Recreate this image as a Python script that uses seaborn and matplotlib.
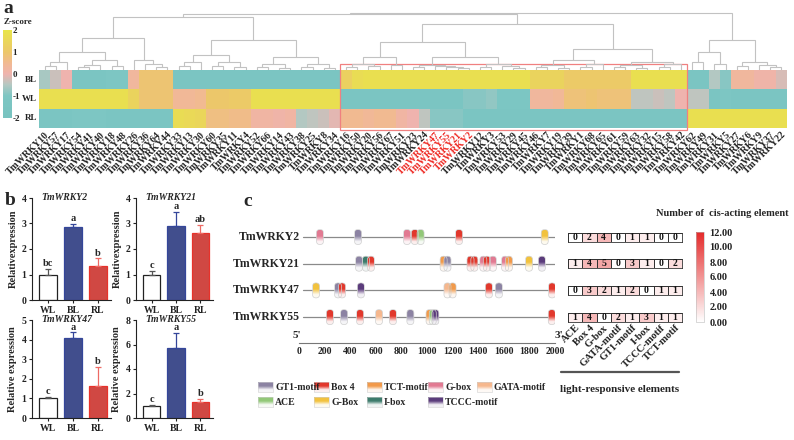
import numpy as np
import pandas as pd
import matplotlib
matplotlib.use("Agg")
import matplotlib.pyplot as plt
import seaborn as sns
from matplotlib.colors import LinearSegmentedColormap, Normalize, to_rgb
from matplotlib.patches import FancyBboxPatch, Rectangle
from matplotlib.lines import Line2D
import matplotlib.cm as cm

# ================= DATA =================
# ---- panel a: z-score heatmap ----
gene_ids = ["10", "57", "17", "54", "41", "40", "18", "48", "26", "36", "64", "44", "33", "13", "30", "60",
            "35", "11", "4", "52", "66", "14", "43", "38", "25", "8", "34", "16", "50", "20", "56", "67",
            "51", "23", "24", "47", "55", "21", "2", "12", "3", "53", "29", "45", "46", "7", "19", "39",
            "1", "68", "65", "61", "59", "63", "32", "15", "58", "42", "62", "49", "31", "5", "27", "6",
            "9", "37", "22"]
heat_rows = ["BL", "WL", "RL"]
z_BL = [-0.6, -0.3, 0.0, -1.5, -1.5, -1.5, -1.0, -1.0, 0.3, 0.9, 0.9, 0.9,
        -1.5, -1.5, -1.5, -1.5, -1.5, -1.5, -1.5, -1.5, -1.5, -1.5, -1.5, -1.5, -1.5, -1.5, -1.5,
        1.3, 1.7, 1.8, 1.8, 1.8, 1.8, 1.8, 1.8, 1.8, 1.8, 1.8, 1.8, 1.8, 1.8, 1.8, 1.8, 1.8,
        1.4, 1.4, 1.4, 1.1, 1.1, 1.1, 1.1, 1.1, 1.1, 1.8, 1.8, 1.8, 1.8, 1.8,
        -1.5, -1.5, -0.5, -0.9, 0.3, 0.3, 0.1, 0.1, -0.2]
z_WL = [1.8, 1.8, 1.8, 1.8, 1.8, 1.8, 1.8, 1.8, 1.4, 0.9, 0.9, 0.9,
        0.4, 0.4, 0.5, 1.0, 1.0, 1.1, 1.1, 1.8, 1.8, 1.8, 1.8, 1.8, 1.8, 1.8, 1.8,
        -1.5, -1.5, -1.5, -1.5, -1.5, -1.5, -1.5, -1.5, -1.3, -1.3, -1.3, -0.9, -0.9, -0.8, -1.1, -1.1, -1.1,
        0.3, 0.3, 0.4, 0.8, 0.8, 0.9, 0.8, 0.8, 0.8, -0.4, -0.4, -0.3, -0.4, 0.0,
        -0.4, -0.4, -1.5, -1.0, -1.5, -1.5, -1.5, -1.5, -1.5]
z_RL = [-1.5, -1.5, -1.5, -1.0, -1.0, -1.0, -1.5, -1.5, -1.5, -1.5, -1.5, -1.5,
        1.7, 1.6, 1.5, 0.7, 0.7, 0.6, 0.6, 0.2, 0.2, 0.1, 0.2, -0.5, -0.4, -0.3, -0.1,
        0.5, 0.5, 0.4, 0.5, 0.5, 0.2, 0.0, -0.4, -0.9, -0.9, -0.9, -1.3, -1.3, -1.3, -1.3, -1.3, -1.3,
        -1.5, -1.5, -1.5, -1.5, -1.5, -1.5, -1.5, -1.5, -1.5, -1.5, -1.5, -1.5, -1.5, -1.5,
        1.8, 1.8, 1.8, 1.8, 1.8, 1.8, 1.8, 1.8, 1.8]
highlight_ids = ["47", "55", "21", "2"]
highlight_cols = (27, 58)   # column span of the boxed cluster

# dendrogram: (height, left, right); leaves are column indices
C1 = (32, (18, (8, (4, 0, 1), 2), (10, (5, (3, 3, 4), 5), (4, 6, 7))),
      (10, 8, (6, 9, (3, 10, 11))))
C2 = (30, (15, (8, (4, 12, 13), 14), (8, (4, 15, 16), (3, 17, 18))),
      (13, (6, (3, 19, 20), (2, 21, 22)), (6, (3, 23, 24), (2, 25, 26))))
D1 = (28, (13, (6, (3, 27, 28), (4, 29, 30)), (5, 31, 32)),
      (13, (5, (3, 33, 34), (4, 35, (3, 36, (2, 37, 38)))), (6, (3, 39, 40), (4, 41, (2, 42, 43)))))
D2 = (21, (10, (5, (3, 44, 45), (2, 46, 47)), (6, (3, 48, 49), 50)),
      (8, (5, (3, 51, 52), (2, 53, 54)), (6, (3, 55, 56), 57)))
C4 = (30, (18, (8, 58, 59), (6, 60, 61)), (8, (4, 62, 63), (5, 64, (3, 65, 66))))
tree = (57, (56, (53, C1, C2), (46, D1, D2)), C4)

# ---- panel b: qRT-PCR bars ----
conditions = ["WL", "BL", "RL"]
b_genes = ["TmWRKY2", "TmWRKY21", "TmWRKY47", "TmWRKY55"]
b_means = [[1.0, 2.85, 1.33], [1.0, 2.92, 2.63], [1.0, 4.07, 1.62], [1.0, 5.75, 1.32]]
b_errs = [[0.22, 0.12, 0.30], [0.14, 0.52, 0.33], [0.07, 0.30, 1.00], [0.08, 1.20, 0.25]]
b_letters = [["bc", "a", "b"], ["c", "a", "ab"], ["c", "a", "b"], ["c", "a", "b"]]
b_ymax = [4, 4, 5, 8]
b_ystep = [1, 1, 1, 2]
b_ylabels = ["Relativexpression", "Relativexpression", "Relative expression", "Relative expression"]

# ---- panel c: promoter cis-elements ----
c_genes = ["TmWRKY2", "TmWRKY21", "TmWRKY47", "TmWRKY55"]
motif_names = ["GT1-motif", "Box 4", "TCT-motif", "G-box", "GATA-motif",
               "ACE", "G-Box", "I-box", "TCCC-motif"]
motif_colors = ["#8C83A3", "#E2382C", "#F29A4A", "#E27A92", "#F6B88E",
                "#92C878", "#F2C23E", "#3D7C6C", "#5B3C7C"]
motifs_wrky2 = [(164, "G-box"), (461, "GT1-motif"), (844, "G-box"), (905, "Box 4"), (950, "ACE"),
                (1250, "Box 4"), (1920, "G-Box")]
motifs_wrky21 = [(469, "GT1-motif"), (523, "I-box"), (562, "Box 4"), (1130, "TCT-motif"),
                 (1160, "GT1-motif"), (1340, "Box 4"), (1370, "Box 4"), (1440, "G-box"),
                 (1468, "Box 4"), (1515, "G-box"), (1610, "G-box"), (1640, "TCT-motif"),
                 (1797, "G-Box"), (1898, "TCCC-motif")]
motifs_wrky47 = [(133, "G-Box"), (305, "GT1-motif"), (336, "Box 4"), (484, "TCCC-motif"),
                 (1160, "GATA-motif"), (1200, "TCT-motif"), (1484, "Box 4"), (1562, "GT1-motif"),
                 (1977, "Box 4")]
motifs_wrky55 = [(242, "Box 4"), (352, "GT1-motif"), (477, "Box 4"), (625, "GATA-motif"),
                 (734, "Box 4"), (870, "GT1-motif"), (1020, "TCT-motif"), (1045, "ACE"),
                 (1065, "TCCC-motif"), (1975, "Box 4")]
c_motifs = [motifs_wrky2, motifs_wrky21, motifs_wrky47, motifs_wrky55]
promoter_len = 2000
count_elements = ["ACE", "Box 4", "G-box", "GATA-motif", "GT1-motif", "I-box", "TCCC-motif", "TCT-motif"]
counts_wrky2 = [0, 2, 4, 0, 1, 1, 0, 0]
counts_wrky21 = [1, 4, 5, 0, 3, 1, 0, 2]
counts_wrky47 = [0, 3, 2, 1, 2, 0, 1, 1]
counts_wrky55 = [1, 4, 0, 2, 1, 3, 1, 1]
c_counts = [counts_wrky2, counts_wrky21, counts_wrky47, counts_wrky55]

# ================= STYLE / LAYOUT =================
sns.set_theme(style="white")
plt.rcParams['font.family'] = ['Liberation Serif', 'DejaVu Serif']
plt.rcParams['font.weight'] = 'bold'
plt.rcParams['axes.labelweight'] = 'bold'
plt.rcParams['axes.linewidth'] = 0.8
plt.rcParams['axes.edgecolor'] = '#222222'
plt.rcParams['xtick.color'] = '#222222'
plt.rcParams['ytick.color'] = '#222222'

W, H = 794, 440
fig = plt.figure(figsize=(W / 100, H / 100), dpi=100)


def add_ax(l, t, r, b):
    return fig.add_axes([l / W, 1 - b / H, (r - l) / W, (b - t) / H])


def ftext(x, y, s, **kw):
    fig.text(x / W, 1 - y / H, s, **kw)


# ---------------- panel a ----------------
zdf = pd.DataFrame([z_BL, z_WL, z_RL], index=heat_rows, columns=["TmWRKY" + g for g in gene_ids])
zcmap = LinearSegmentedColormap.from_list(
    "z", [(0.0, "#78C3C0"), (0.25, "#7DC6C3"), (0.38, "#B5C8C2"), (0.5, "#EFB3AE"),
          (0.62, "#F1B993"), (0.75, "#ECC76A"), (1.0, "#E8E54A")])
ax_h = add_ax(39, 70, 787, 128)
ax_cb = add_ax(3, 30, 12, 118)
sns.heatmap(zdf, ax=ax_h, cmap=zcmap, vmin=-2, vmax=2, cbar_ax=ax_cb,
            xticklabels=True, yticklabels=True)
ax_h.set_xticks(np.arange(len(gene_ids)) + 0.5)
ax_h.set_xticklabels(zdf.columns, rotation=45, ha='right', va='top', rotation_mode='anchor',
                     fontsize=7, fontweight='bold')
for t, g in zip(ax_h.get_xticklabels(), gene_ids):
    if g in highlight_ids:
        t.set_color('#EE2A24')
ax_h.set_yticklabels(heat_rows, rotation=0, fontsize=6.5, fontweight='bold')
ax_h.tick_params(length=0, pad=1.5)
ax_h.set_xlabel("")
ax_h.set_ylabel("")
ax_h.add_patch(Rectangle((highlight_cols[0], -0.31), highlight_cols[1] - highlight_cols[0], 3.42,
                         fill=False, ec='#F08080', lw=0.9, clip_on=False))
ax_cb.set_yticks([-2, -1, 0, 1, 2])
ax_cb.set_yticklabels(["-2", "-1", "0", "1", "2"], fontsize=6.5, fontweight='bold')
ax_cb.tick_params(length=0, pad=0.5)
ftext(18, 22, "Z-score", ha='center', va='center', fontsize=6.5, fontweight='bold')

ax_d = add_ax(39, 10, 787, 70)
ax_d.set_xlim(0, len(gene_ids))
ax_d.set_ylim(0, 60)
ax_d.axis('off')


def draw_tree(ax, node):
    if isinstance(node, int):
        return node + 0.5, 0.0
    h, a, b = node
    xa, ha = draw_tree(ax, a)
    xb, hb = draw_tree(ax, b)
    ax.plot([xa, xa, xb, xb], [ha, h, h, hb], color='#C2C2C2', lw=0.8, solid_joinstyle='miter')
    return (xa + xb) / 2, h


draw_tree(ax_d, tree)
ftext(8, 13, "a", ha='center', va='baseline', fontsize=14, fontweight='bold')

# ---------------- panel b ----------------
bar_colors = ["#FFFFFF", "#34469A", "#E8322B"]
edge_colors = ["#222222", "#34469A", "#E8322B"]
err_colors = ["#555555", "#34469A", "#EE6A64"]
b_boxes = [(32, 198, 111, 300), (136, 198, 213, 300), (32, 320, 111, 418), (136, 320, 213, 418)]
for k in range(4):
    ax = add_ax(*b_boxes[k])
    sns.barplot(x=conditions, y=b_means[k], hue=conditions, palette=bar_colors, width=0.72,
                ax=ax, legend=False, linewidth=0.9, errorbar=None)
    for p, ec in zip(ax.patches, edge_colors):
        p.set_edgecolor(ec)
    for i in range(3):
        ax.errorbar(i, b_means[k][i], yerr=[[0], [b_errs[k][i]]], fmt='none',
                    ecolor=err_colors[i], elinewidth=0.9, capsize=2.5, capthick=0.9)
        ax.text(i, b_means[k][i] + b_errs[k][i] + b_ymax[k] * 0.008, b_letters[k][i],
                ha='center', va='bottom', fontsize=7.5, fontweight='bold')
    ax.set_xlim(-0.64, 2.52)
    ax.set_ylim(0, b_ymax[k])
    ax.set_yticks(np.arange(0, b_ymax[k] + 0.01, b_ystep[k]))
    ax.set_yticklabels([str(int(v)) for v in np.arange(0, b_ymax[k] + 0.01, b_ystep[k])])
    ax.tick_params(axis='both', labelsize=7, length=2.5, width=0.8, pad=1.5, direction='out',
                   left=True, bottom=True)
    for lab in ax.get_xticklabels() + ax.get_yticklabels():
        lab.set_fontweight('bold')
    ax.set_ylabel(b_ylabels[k], fontsize=7.5, fontweight='bold', labelpad=3)
    sns.despine(ax=ax)
    ax.text(0.12, 1.0, b_genes[k], transform=ax.transAxes, ha='left', va='center',
            fontsize=7, fontweight='bold', style='italic')
ftext(10, 200, "b", ha='center', va='center', fontsize=14, fontweight='bold')

# ---------------- panel c ----------------
ftext(248, 201, "c", ha='center', va='center', fontsize=14, fontweight='bold')
g_l, g_t, g_r, g_b = 299, 225, 555, 343
ax_g = add_ax(g_l, g_t, g_r, g_b)
ylo, yhi = 3.97, -0.45
ax_g.set_xlim(0, promoter_len)
ax_g.set_ylim(ylo, yhi)
for s in ['top', 'right', 'left']:
    ax_g.spines[s].set_visible(False)
ax_g.spines['bottom'].set_color('#777777')
ax_g.set_yticks([])
ax_g.set_xticks(np.arange(0, promoter_len + 1, 200))
ax_g.tick_params(axis='x', direction='in', length=3, width=0.8, labelsize=7, pad=3, colors='#222222')
for lab in ax_g.get_xticklabels():
    lab.set_fontweight('bold')
ax_g.spines['bottom'].set_linewidth(0.8)
ftext(297, 335, "5'", ha='center', va='center', fontsize=8, fontweight='bold')
ftext(559, 335, "3'", ha='center', va='center', fontsize=8, fontweight='bold')

px_per_x = (g_r - g_l) / promoter_len
px_per_y = (g_b - g_t) / abs(ylo - yhi)
pill_w = 7 / px_per_x
pill_h = 15 / px_per_y
asp = px_per_x / px_per_y
cmap_of = dict(zip(motif_names, motif_colors))


def grad_img(color, n=40):
    c = np.array(to_rgb(color))
    t = np.linspace(0, 1, n)
    f = np.clip(1 - (t - 0.4) / 0.4, 0.08, 1.0)
    rgb = f[:, None] * c[None, :] + (1 - f[:, None]) * np.ones(3)[None, :]
    return rgb[:, None, :]


for gi, (gname, mlist) in enumerate(zip(c_genes, c_motifs)):
    ax_g.plot([30, promoter_len], [gi, gi], color='#8A8A8A', lw=0.9, zorder=1)
    ax_g.text(8, gi, gname, ha='right', va='center', fontsize=8.5, fontweight='bold')
    for pos, mname in mlist:
        x0, y0 = pos - pill_w / 2, gi - pill_h / 2
        patch = FancyBboxPatch((x0, y0), pill_w, pill_h,
                               boxstyle=f"round,pad=0,rounding_size={pill_w / 2}",
                               mutation_aspect=asp, fc='none', ec='#CFCFCF', lw=0.5, zorder=4)
        ax_g.add_patch(patch)
        im = ax_g.imshow(grad_img(cmap_of[mname]), extent=(x0, x0 + pill_w, y0 + pill_h, y0),
                         aspect='auto', zorder=3, interpolation='bilinear', origin='upper')
        im.set_clip_path(patch)
ax_g.set_xlim(0, promoter_len)
ax_g.set_ylim(ylo, yhi)

# legend
ax_l = add_ax(250, 378, 560, 412)
ax_l.set_xlim(250, 560)
ax_l.set_ylim(412, 378)
ax_l.axis('off')
leg_cols = [258, 314, 367, 428, 477]
leg_rows = [387, 402]
for idx, (mname, col) in enumerate(zip(motif_names, motif_colors)):
    r, c = divmod(idx, 5)
    x, y = leg_cols[c], leg_rows[r]
    ax_l.imshow(grad_img(col), extent=(x, x + 15, y + 5, y - 5), aspect='auto',
                interpolation='bilinear', origin='upper')
    ax_l.add_patch(Rectangle((x, y - 5), 15, 10, fill=False, ec='#D0D0D0', lw=0.4))
    ax_l.text(x + 17, y, mname, ha='left', va='center', fontsize=7, fontweight='bold')
ax_l.set_xlim(250, 560)
ax_l.set_ylim(412, 378)

# count table
cmap_cnt = LinearSegmentedColormap.from_list("wr", ["#FFFFFF", "#E42A2A"])
for gi, row in enumerate(c_counts):
    yc = g_t + (gi - yhi) * px_per_y
    ax = add_ax(568, yc - 4.5, 682, yc + 4.5)
    sns.heatmap(pd.DataFrame([row], columns=count_elements), ax=ax, cmap=cmap_cnt, vmin=0, vmax=12,
                cbar=False, annot=True, fmt='d', linewidths=0.6, linecolor='#333333',
                annot_kws=dict(fontsize=7, fontweight='bold', color='#111111'),
                xticklabels=(gi == 3), yticklabels=False)
    for s in ax.spines.values():
        s.set_visible(True)
        s.set_linewidth(0.6)
        s.set_color('#333333')
    ax.tick_params(length=0, pad=1)
    if gi == 3:
        ax.set_xticklabels(count_elements, rotation=45, ha='right', va='top', rotation_mode='anchor',
                           fontsize=7.5, fontweight='bold')

ax_cc = add_ax(696, 232, 704, 322)
cb = fig.colorbar(cm.ScalarMappable(norm=Normalize(0, 12), cmap=cmap_cnt), cax=ax_cc,
                  ticks=np.arange(0, 13, 2))
cb.ax.set_yticklabels([f"{v:.2f}" for v in np.arange(0, 13, 2)], fontsize=7.5, fontweight='bold')
cb.ax.tick_params(length=0, pad=4)
cb.outline.set_linewidth(0.4)
cb.outline.set_edgecolor('#BBBBBB')
ftext(722, 213, "Number of  cis-acting element", ha='center', va='center', fontsize=7.5,
      fontweight='bold')
fig.add_artist(Line2D([561 / W, 679 / W], [1 - 372 / H, 1 - 372 / H], color='#555555', lw=1.6))
ftext(620, 389, "light-responsive elements", ha='center', va='center', fontsize=8, fontweight='bold')

fig.savefig("out.png", dpi=100)
